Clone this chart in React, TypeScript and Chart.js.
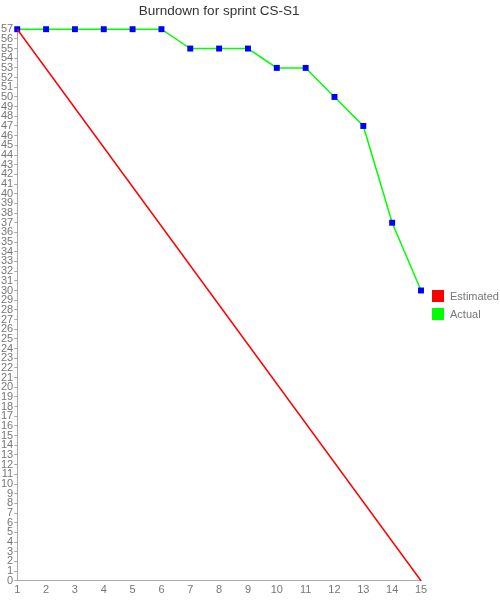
import React, { useEffect, useRef } from "react";
import { Chart, registerables } from "chart.js";

Chart.register(...registerables);

const days = [1, 2, 3, 4, 5, 6, 7, 8, 9, 10, 11, 12, 13, 14, 15];
const estimatedDays = [1, 15];
const estimated = [57, 0];
const actual = [57, 57, 57, 57, 57, 57, 55, 55, 55, 53, 53, 50, 47, 37, 30];
const titleText = "Burndown for sprint CS-S1";
const seriesNames = ["Estimated", "Actual"];
const seriesColors = ["#ff0000", "#00ff00"];

const FONT = "Liberation Sans, Arial, Helvetica, sans-serif";

const sideLegend = {
  id: "sideLegend",
  afterDraw(chart: any) {
    const { ctx, chartArea } = chart;
    const items = chart.data.datasets;
    const rowH = 18;
    const cy = (chartArea.top + chartArea.bottom) / 2 - ((items.length - 1) * rowH) / 2;
    const x = chartArea.right + 11;
    ctx.save();
    ctx.font = `11px ${FONT}`;
    ctx.textBaseline = "middle";
    ctx.textAlign = "left";
    items.forEach((ds: any, i: number) => {
      const y = cy + i * rowH;
      ctx.fillStyle = ds.backgroundColor;
      ctx.fillRect(x, y - 6, 12, 12);
      ctx.fillStyle = "#777";
      ctx.fillText(ds.label, x + 18, y + 0.5);
    });
    ctx.restore();
  },
};

export default function App() {
  const ref = useRef<HTMLCanvasElement | null>(null);
  useEffect(() => {
    document.body.style.margin = "0";
    if (!ref.current) return;
    const chart = new Chart(ref.current, {
      type: "line",
      data: {
        datasets: [
          {
            label: seriesNames[0],
            data: estimatedDays.map((d, i) => ({ x: d, y: estimated[i] })),
            borderColor: seriesColors[0],
            backgroundColor: seriesColors[0],
            borderWidth: 1.5,
            pointRadius: 0,
            tension: 0,
            clip: false,
          },
          {
            label: seriesNames[1],
            data: days.map((d, i) => ({ x: d, y: actual[i] })),
            borderColor: seriesColors[1],
            backgroundColor: seriesColors[1],
            borderWidth: 1.5,
            pointStyle: "rect",
            pointRadius: 4.2,
            pointBackgroundColor: "#0000ff",
            pointBorderColor: "#0000ff",
            pointBorderWidth: 0,
            tension: 0,
            clip: false,
          },
        ],
      },
      plugins: [sideLegend],
      options: {
        animation: false,
        responsive: false,
        maintainAspectRatio: false,
        layout: { padding: { left: 0, right: 79, top: 0, bottom: 0 } },
        plugins: {
          title: {
            display: true,
            text: titleText,
            fullSize: false,
            color: "#333",
            font: { family: FONT, size: 13.5, weight: "normal" },
            padding: { top: 3, bottom: 10 },
          },
          legend: { display: false },
          tooltip: { enabled: false },
        },
        scales: {
          x: {
            type: "linear",
            min: 1,
            max: 15,
            grid: { display: false, tickLength: 0 },
            border: { display: true, color: "#aaa" },
            ticks: {
              stepSize: 1,
              autoSkip: false,
              color: "#777",
              padding: 3,
              maxRotation: 0,
              font: { family: FONT, size: 11 },
            },
          },
          y: {
            type: "linear",
            min: 0,
            max: 57,
            grid: { display: true, drawOnChartArea: false, drawTicks: true, tickLength: 3, color: "#aaa" },
            border: { display: true, color: "#aaa" },
            ticks: {
              stepSize: 1,
              autoSkip: false,
              color: "#777",
              padding: 1,
              font: { family: FONT, size: 11 },
            },
          },
        },
      },
    });
    return () => chart.destroy();
  }, []);
  return <canvas ref={ref} width={500} height={600} style={{ display: "block" }} />;
}
